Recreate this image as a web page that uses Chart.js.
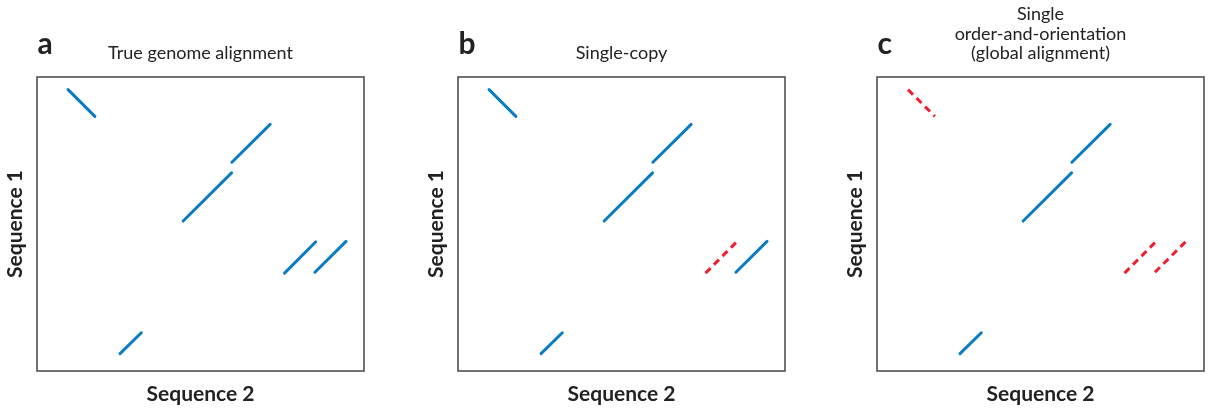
<!DOCTYPE html>
<html>
<head>
<meta charset="utf-8">
<script src="https://cdn.jsdelivr.net/npm/chart.js@4/dist/chart.umd.min.js"></script>
<style>
  html, body { margin: 0; padding: 0; background: #fff; }
  #wrap { position: relative; width: 1212px; height: 412px; overflow: hidden; }
  .panel { position: absolute; top: 0; width: 368px; height: 412px; }
</style>
</head>
<body>
<div id="wrap">
  <div class="panel" style="left:0px"><canvas id="chart-a"></canvas></div>
  <div class="panel" style="left:421px"><canvas id="chart-b"></canvas></div>
  <div class="panel" style="left:840px"><canvas id="chart-c"></canvas></div>
</div>
<script>
// alignment segments (positions along sequence 2 / sequence 1, 0-100)
const segX0 = [9.5, 59.6, 44.7, 75.7, 85.0, 25.4];
const segX1 = [17.7, 71.3, 59.5, 85.2, 94.5, 31.9];
const segY0 = [95.7, 71.0, 51.0, 33.3, 33.6, 5.9];
const segY1 = [86.6, 83.9, 67.4, 43.9, 44.1, 13.0];

const panelIds = ['chart-a', 'chart-b', 'chart-c'];
const panelLetters = ['a', 'b', 'c'];
const panelTitles = [
    ['True genome alignment'],
    ['Single-copy'],
    ['Single', 'order-and-orientation', '(global alignment)']
];
// segments drawn as red dashed (not kept) in each panel
const droppedSegs = [[], [3], [0, 3, 4]];

const xLabel = 'Sequence 2';
const yLabel = 'Sequence 1';

const blue = '#0a7dc2';
const red = '#ee2030';
const frameColor = '#444444';

const frameAndLetter = {
    id: 'frameAndLetter',
    afterDraw(chart, args, opts) {
        const { ctx, chartArea } = chart;
        ctx.save();
        ctx.strokeStyle = frameColor;
        ctx.lineWidth = 1.5;
        ctx.strokeRect(chartArea.left, chartArea.top, chartArea.right - chartArea.left, chartArea.bottom - chartArea.top);
        ctx.fillStyle = '#222';
        ctx.font = 'bold 30px Lato';
        ctx.textBaseline = 'alphabetic';
        ctx.fillText(opts.letter, chartArea.left + 0.5, 53.5);
        ctx.restore();
    }
};

function makePanel(i) {
    const datasets = segX0.map((x0, k) => {
        const dropped = droppedSegs[i].includes(k);
        return {
            data: [{ x: x0, y: segY0[k] }, { x: segX1[k], y: segY1[k] }],
            showLine: true,
            borderColor: dropped ? red : blue,
            borderWidth: 3,
            borderDash: dropped ? [7, 5] : [],
            borderCapStyle: dropped ? 'butt' : 'round',
            pointRadius: 0,
            pointHoverRadius: 0
        };
    });
    const lines = panelTitles[i].length;
    // keep the top of the frame at the same height for 1 or 3 title lines
    const titleTop = 63.25 - lines * 19.5;

    new Chart(document.getElementById(panelIds[i]), {
        type: 'scatter',
        data: { datasets },
        options: {
            responsive: true,
            maintainAspectRatio: false,
            animation: false,
            events: [],
            layout: { padding: { left: 0, right: 4, top: 0, bottom: 0 }, autoPadding: false },
            plugins: {
                legend: { display: false },
                tooltip: { enabled: false },
                title: {
                    display: true,
                    fullSize: false,
                    text: panelTitles[i],
                    color: '#222',
                    font: { family: 'Lato', size: 18, weight: 'normal', lineHeight: '19.5px' },
                    padding: { top: titleTop, bottom: 77 - titleTop - lines * 19.5 }
                },
                frameAndLetter: { letter: panelLetters[i] }
            },
            scales: {
                x: {
                    type: 'linear', min: 0, max: 100,
                    grid: { display: false, drawTicks: false },
                    border: { display: false },
                    ticks: { display: false },
                    title: {
                        display: true, text: xLabel, color: '#222',
                        font: { family: 'Lato', size: 21, weight: 'bold', lineHeight: 1.2 },
                        padding: { top: 10.7, bottom: 5.1 }
                    }
                },
                y: {
                    type: 'linear', min: 0, max: 100,
                    grid: { display: false, drawTicks: false },
                    border: { display: false },
                    ticks: { display: false },
                    title: {
                        display: true, text: yLabel, color: '#222',
                        font: { family: 'Lato', size: 21, weight: 'bold', lineHeight: 1.2 },
                        padding: { top: 2.4, bottom: 9.4 }
                    }
                }
            }
        },
        plugins: [frameAndLetter]
    });
}

panelIds.forEach((id, i) => makePanel(i));
</script>
</body>
</html>
